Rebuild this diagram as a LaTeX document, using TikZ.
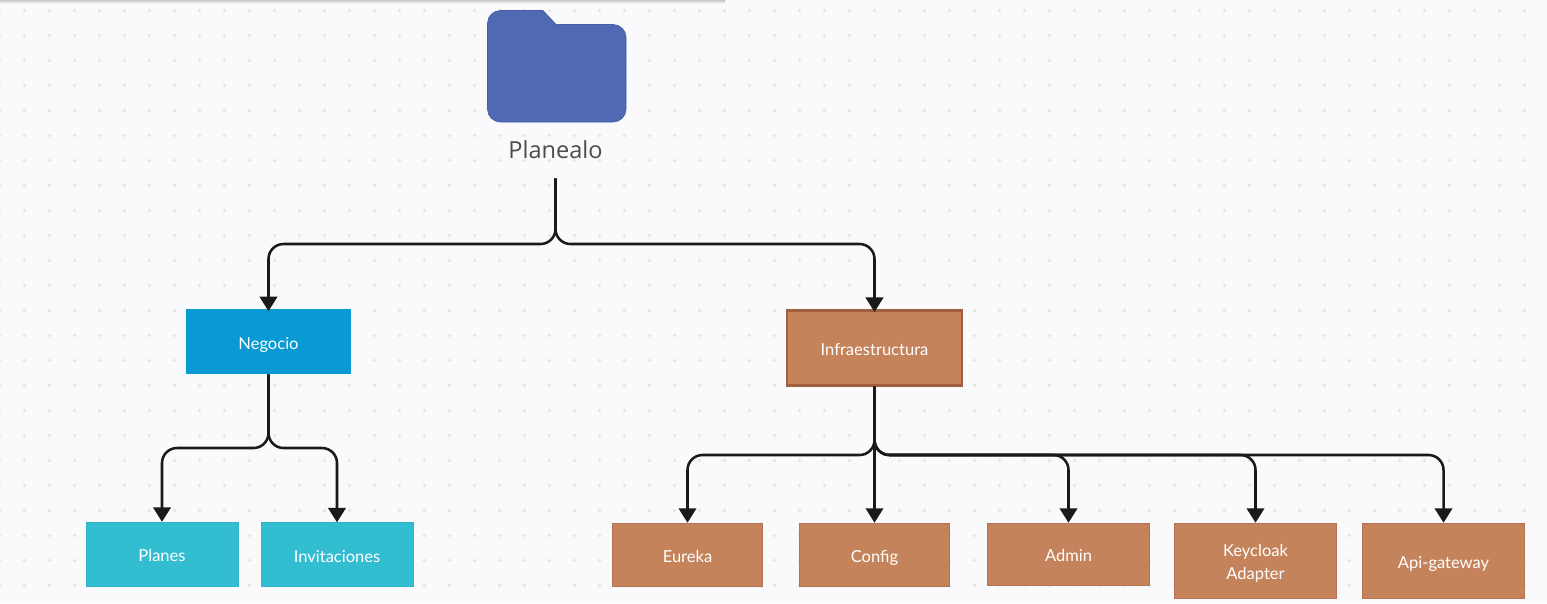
\documentclass[tikz,border=0pt]{standalone}
\usepackage{xcolor}
\usepackage{fontspec}
\setmainfont{Lato}
\newfontfamily\titlefont{Open Sans}
\usetikzlibrary{arrows.meta}

\definecolor{canvas}{HTML}{FAFAFC}
\definecolor{griddot}{HTML}{E4E4E9}
\definecolor{folderblue}{HTML}{4F69B2}
\definecolor{folderedge}{HTML}{4560A8}
\definecolor{negociocol}{HTML}{0A9AD3}
\definecolor{moduloblue}{HTML}{33BDD1}
\definecolor{infracol}{HTML}{C4835B}
\definecolor{infraedge}{HTML}{A15F42}
\definecolor{linkcol}{HTML}{1A1A1A}

\tikzset{
  box/.style={minimum width=#1, inner sep=0pt, align=center, text=white, font=\fontsize{9.4}{13}\selectfont, text height=9.6pt, text depth=1pt},
  negociobox/.style={box=3.3cm, minimum height=1.3cm, fill=negociocol},
  planbox/.style={box=3.03cm, minimum height=1.28cm, fill=moduloblue, draw=moduloblue!95!black, line width=0.2pt},
  infrabox/.style={box=3.5cm, minimum height=1.5cm, fill=infracol, draw=infraedge, line width=1.2pt},
  svcbox/.style={box=#1, fill=infracol, draw=infraedge!45!infracol, line width=0.3pt},
  link/.style={draw=linkcol, line width=1.45pt, rounded corners=0.3cm},
  arrowlink/.style={link, -{Triangle[length=0.29cm, width=0.35cm]}}
}

\begin{document}
\begin{tikzpicture}[x=0.02cm, y=-0.02cm]
    \fill [canvas] (0, 0) rectangle (1547, 603);
    \useasboundingbox (0, 0) rectangle (1547, 603);

    % dotted canvas
    \foreach \dx in {0,...,61} {
      \foreach \dy in {0,...,23} {
        \fill [griddot] (-0.5 + 25*\dx, 10.5 + 25*\dy) circle (1.8);
      }
    }
    \shade [top color=black!22, bottom color=canvas] (0, 0) rectangle (725, 3.5);

    % folder
    \fill [folderblue, draw=folderedge, line width=0.4pt]
      (500.5, 10.5) -- (543, 10.5) -- (556, 24.5) -- (613, 24.5)
      .. controls (620.2, 24.5) and (626, 30.3) .. (626, 37.5) -- (626, 109)
      .. controls (626, 116.2) and (620.2, 122) .. (613, 122) -- (500.5, 122)
      .. controls (493.3, 122) and (487.5, 116.2) .. (487.5, 109) -- (487.5, 23.5)
      .. controls (487.5, 16.3) and (493.3, 10.5) .. (500.5, 10.5) -- cycle;

    \node (planealo) [minimum height=1.12cm, inner sep=0pt, text=black!70, font=\titlefont\fontsize{13.4}{15}\selectfont] at (555.5, 150) {Planealo};

    \node (negocio) [negociobox] at (268.5, 341.5) {Negocio};
    \node (infra) [infrabox] at (874.5, 348) {Infraestructura};

    \node (planes) [planbox] at (162, 554) {Planes};
    \node (invitaciones) [planbox] at (337, 554.5) {Invitaciones};

    \node (eureka) [svcbox=3.01cm, minimum height=1.26cm] at (687.5, 554.5) {Eureka};
    \node (config) [svcbox=3.01cm, minimum height=1.26cm] at (874.5, 554.5) {Config};
    \node (admin) [svcbox=3.25cm, minimum height=1.24cm] at (1068.5, 554) {Admin};
    \node (keycloak) [svcbox=3.25cm, minimum height=1.5cm, text height=22.4pt, text depth=1pt] at (1255.5, 560.5) {Keycloak\\Adapter};
    \node (gateway) [svcbox=3.25cm, minimum height=1.5cm] at (1443.5, 560.5) {Api-gateway};

    \coordinate (busTop) at (555.5, 244);
    \coordinate (busNegocio) at (268.5, 448);
    \coordinate (busInfra) at (874.5, 455);

    \draw [arrowlink] (planealo.south) -- (planealo.south |- busTop) -| ([yshift=-0.05cm]negocio.north);
    \draw [arrowlink] (planealo.south) -- (planealo.south |- busTop) -| ([yshift=-0.05cm]infra.north);

    \draw [arrowlink] (negocio.south) -- (busNegocio) -| (planes.north);
    \draw [arrowlink] (negocio.south) -- (busNegocio) -| (invitaciones.north);

    \draw [arrowlink] (infra.south) -- (busInfra) -| (eureka.north);
    \draw [arrowlink, line width=1.3pt] (infra.south) -- (config.north);
    \draw [arrowlink] (infra.south) -- (busInfra) -| (admin.north);
    \draw [arrowlink] (infra.south) -- (busInfra) -| (keycloak.north);
    \draw [arrowlink] (infra.south) -- (busInfra) -| (gateway.north);
\end{tikzpicture}
\end{document}
